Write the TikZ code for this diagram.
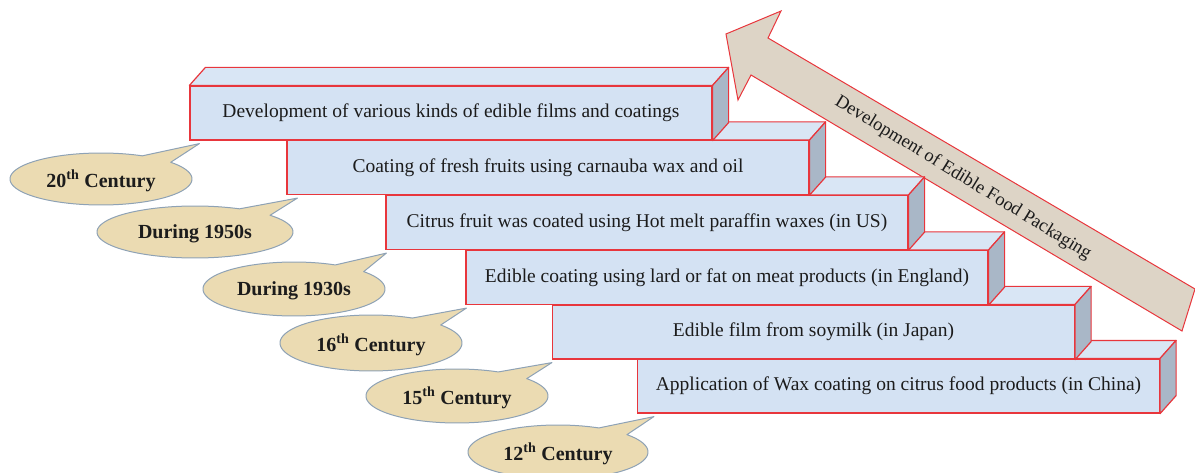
\documentclass[tikz,border=0pt]{standalone}
\usepackage{fontspec}
\setmainfont{Liberation Serif}
\definecolor{boxred}{HTML}{E8363C}
\definecolor{frontblue}{HTML}{D4E2F3}
\definecolor{topblue}{HTML}{D9E6F5}
\definecolor{sidegray}{HTML}{A9B7C7}
\definecolor{tan}{HTML}{EBDBB2}
\definecolor{bubbleline}{HTML}{8EA2B5}
\definecolor{arrowfill}{HTML}{DDD4C6}
\definecolor{ink}{HTML}{1C1C1C}
\tikzset{
  x=1pt, y=-1pt,
  front/.style={draw=boxred, fill=frontblue, line width=1.2pt, minimum width=522pt,
    minimum height=54pt, inner sep=0pt, text=ink, font=\fontsize{19.5}{22}\selectfont},
  topface/.style={draw=boxred, fill=topblue, line width=1.2pt, line join=round},
  sideface/.style={draw=boxred, fill=sidegray, line width=1.2pt, line join=round},
  bubblebody/.style={draw=bubbleline, fill=tan, line width=1pt, line join=round},
  bubbletext/.style={text=ink, font=\bfseries\fontsize{20}{24}\selectfont, inner sep=0pt},
  bigarrow/.style={draw=boxred, fill=arrowfill, line width=1pt, line join=miter},
  arrowtext/.style={text=ink, font=\fontsize{18.5}{22}\selectfont, inner sep=0pt}
}
\newcommand\stepbox[4]{% name, cx, cy, text
  \node[front] (#1) at (#2,#3) {#4};
  \draw[topface] (#1.north west) -- ++(16,-18) -- ([shift={(16,-18)}]#1.north east) -- (#1.north east) -- cycle;
  \draw[sideface] (#1.north east) -- ++(16,-18) -- ([shift={(16,-18)}]#1.south east) -- (#1.south east) -- cycle;
}
\newcommand\bubble[8]{% name, cx, cy, rx, ry, box, text, tipdx
  \draw[bubblebody] plot[domain=63:400, samples=120] ({#2+#4*cos(\x)},{#3-#5*sin(\x)})
     -- ([shift={(#8,3)}]#6.south west) -- cycle;
  \node[bubbletext] (#1) at (#2,#3+2) {#7};
}
\begin{document}
\begin{tikzpicture}
\useasboundingbox (0,0) rectangle (1195,473);
% big arrow
\coordinate (tip) at (726,34);
\draw[bigarrow] (tip) -- (781,11) -- (768,38) -- (1195,289) -- (1182,331) -- (751,75) -- (738,100) -- cycle;
\node[arrowtext, rotate=-31.5] (arrowlabel) at (963,178) {Development of Edible Food Packaging};
% steps, bottom first
\stepbox{b6}{898.5}{386}{Application of Wax coating on citrus food products (in China)}
\stepbox{b5}{813.5}{332}{Edible film from soymilk (in Japan)}
\stepbox{b4}{727}{277.5}{Edible coating using lard or fat on meat products (in England)}
\stepbox{b3}{647}{222.5}{Citrus fruit was coated using Hot melt paraffin waxes (in US)}
\stepbox{b2}{548}{167.5}{Coating of fresh fruits using carnauba wax and oil}
\stepbox{b1}{451}{113}{Development of various kinds of edible films and coatings}
% bubbles
\bubble{c1}{101}{179}{91}{26}{b1}{20\textsuperscript{th} Century}{10}
\bubble{c2}{195}{232}{98}{26}{b2}{During 1950s}{11}
\bubble{c3}{294}{289}{91}{27}{b3}{During 1930s}{1}
\bubble{c4}{371}{343}{91}{28}{b4}{16\textsuperscript{th} Century}{1}
\bubble{c5}{457}{396}{91}{27}{b5}{15\textsuperscript{th} Century}{0}
\bubble{c6}{558}{452}{90}{27}{b6}{12\textsuperscript{th} Century}{17}
\end{tikzpicture}
\end{document}
